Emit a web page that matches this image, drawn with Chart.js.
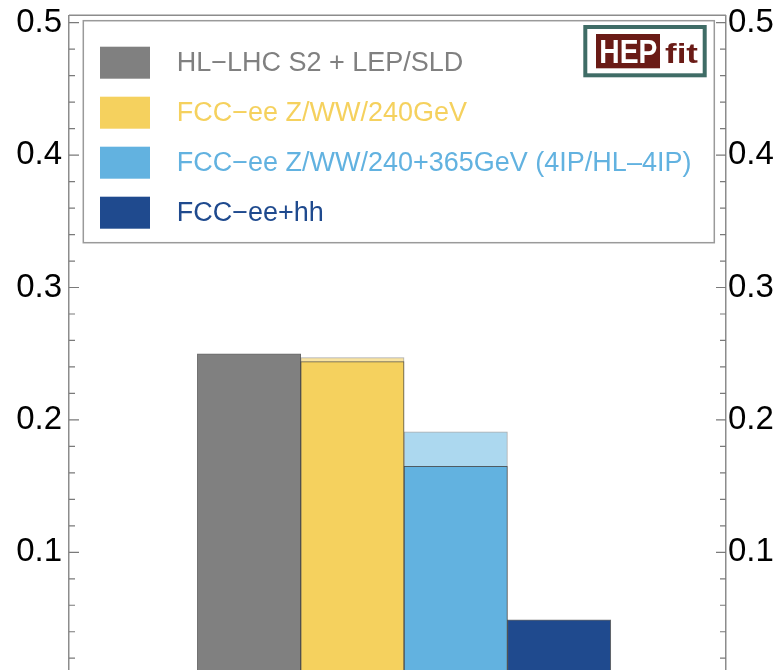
<!DOCTYPE html>
<html>
<head>
<meta charset="utf-8">
<title>Fit uncertainty by scenario</title>
<script src="https://cdn.jsdelivr.net/npm/chart.js@4.4.1/dist/chart.umd.min.js"></script>
<style>
  html, body { margin: 0; padding: 0; background: #fff; overflow: hidden; }
  #wrap { position: absolute; left: 0; top: -20px; width: 782px; height: 740px; }
</style>
</head>
<body>
<div id="wrap"><canvas id="barChart" width="782" height="740"></canvas></div>
<script>
// ---- data ----
const scenarios = [
  'HL\u2212LHC S2 + LEP/SLD',
  'FCC\u2212ee Z/WW/240GeV',
  'FCC\u2212ee Z/WW/240+365GeV (4IP/HL\u20134IP)',
  'FCC\u2212ee+hh'
];
const barValues = [0.250, 0.244, 0.165, 0.049];   // 4IP
const hlValues  = [null, 0.247, 0.191, null];     // HL-4IP, lighter bar behind
const yTicks    = [0.1, 0.2, 0.3, 0.4, 0.5];

// ---- styles ----
const barColors   = ['#808080', '#f5d15e', '#62b2e0', '#1f4a8e'];
const lightColors = ['#b3b3b3', '#f8e3a2', '#acd8ef', '#8fa5c7'];
const frameColor  = '#8c8c8c';
const FONT = '"Liberation Sans", Arial, Helvetica, sans-serif';

// draw text squeezed/stretched to a given width
function fitText(ctx, text, x, baseline, width, font, color) {
  ctx.save();
  ctx.font = font;
  ctx.fillStyle = color;
  ctx.textBaseline = 'alphabetic';
  const w = ctx.measureText(text).width;
  ctx.translate(x, baseline);
  ctx.scale(width / w, 1);
  ctx.fillText(text, 0, 0);
  ctx.restore();
}

// frame, inner ticks, legend box and logo
const decorPlugin = {
  id: 'decor',
  afterDraw(chart) {
    const { ctx, chartArea: a, scales } = chart;
    const y = scales.y;
    ctx.save();

    ctx.strokeStyle = frameColor;
    ctx.lineWidth = 1.5;
    ctx.beginPath();
    ctx.moveTo(a.left, a.top);
    ctx.lineTo(a.right, a.top);
    ctx.stroke();

    // major ticks every 0.1, minor every 0.02, pointing inward
    ctx.strokeStyle = '#7a7a7a';
    ctx.lineWidth = 1.2;
    for (let i = 0; i <= 25; i++) {
      const py = y.getPixelForValue(i * 0.02);
      const len = i % 5 === 0 ? 10 : 6;
      ctx.beginPath();
      ctx.moveTo(a.left, py);  ctx.lineTo(a.left + len, py);
      ctx.moveTo(a.right, py); ctx.lineTo(a.right - len, py);
      ctx.stroke();
    }

    // legend
    const lx = a.left + 14.3, ly = a.top + 5.4, lw = 631, lh = 222;
    ctx.fillStyle = '#fff';
    ctx.fillRect(lx, ly, lw, lh);
    ctx.strokeStyle = '#9a9a9a';
    ctx.lineWidth = 1.5;
    ctx.strokeRect(lx, ly, lw, lh);
    ctx.font = '27px ' + FONT;
    ctx.textBaseline = 'middle';
    ctx.textAlign = 'left';
    scenarios.forEach((name, i) => {
      const cy = ly + 42 + i * 50;
      ctx.fillStyle = barColors[i];
      ctx.fillRect(lx + 16.7, cy - 16, 50, 32);
      ctx.fillText(name, lx + 93.4, cy + 1);
    });

    // HEPfit logo
    const gx = lx + 500, gy = ly + 4.3, gw = 123.4, gh = 52.3;
    ctx.fillStyle = '#3f6c66';
    ctx.fillRect(gx, gy, gw, gh);
    ctx.fillStyle = '#fff';
    ctx.fillRect(gx + 4, gy + 4, gw - 8, gh - 8);
    ctx.fillStyle = '#6a1b16';
    ctx.fillRect(gx + 12.7, gy + 9, 64, 34.3);
    fitText(ctx, 'HEP', gx + 16, gy + 38, 58, 'bold 34px ' + FONT, '#fff');
    fitText(ctx, 'fit', gx + 81.7, gy + 38.3, 33, 'bold 27px ' + FONT, '#6a1b16');

    ctx.restore();
  }
};

function yAxis(position, width, pad) {
  return {
    position: position,
    min: 0,
    max: 0.5056,
    afterFit: s => { s.width = width; },
    afterBuildTicks: s => { s.ticks = yTicks.map(v => ({ value: v })); },
    grid: { drawOnChartArea: false, drawTicks: false },
    border: { display: true, color: frameColor, width: 1.5 },
    ticks: {
      padding: pad,
      color: '#000',
      font: { family: FONT, size: 33 },
      callback: v => v.toFixed(1)
    }
  };
}

new Chart(document.getElementById('barChart'), {
  type: 'bar',
  data: {
    datasets: [
      {
        label: '4IP',
        data: barValues.map((v, i) => ({ x: i, y: v })),
        backgroundColor: barColors,
        borderColor: 'rgba(40,40,40,0.7)',
        borderWidth: 1,
        order: 1
      },
      {
        label: 'HL-4IP',
        data: hlValues.map((v, i) => ({ x: i, y: v })),
        backgroundColor: lightColors,
        borderColor: 'rgba(70,70,70,0.45)',
        borderWidth: 1,
        order: 2
      }
    ]
  },
  options: {
    responsive: false,
    animation: false,
    grouped: false,
    categoryPercentage: 1,
    barPercentage: 1,
    layout: { padding: { top: 35.3, bottom: 35.3, left: 0, right: 0 } },
    plugins: { legend: { display: false }, tooltip: { enabled: false } },
    scales: {
      x: {
        type: 'linear',
        min: -1.742,
        max: 4.615,
        offset: false,
        display: false,
        afterBuildTicks: s => { s.ticks = barValues.map((_, i) => ({ value: i })); }
      },
      y: yAxis('left', 69, 7),
      y2: yAxis('right', 56, 2)
    }
  },
  plugins: [decorPlugin]
});
</script>
</body>
</html>
